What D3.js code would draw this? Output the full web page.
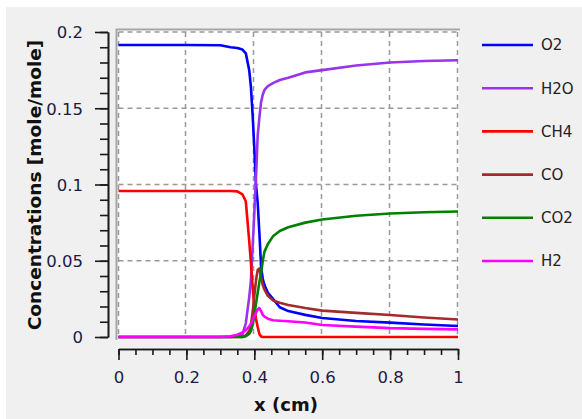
<!DOCTYPE html>
<html>
<head>
<meta charset="utf-8">
<script src="https://cdn.jsdelivr.net/npm/d3@7"></script>
<style>
  body { margin: 0; background: #fff; }
  svg { display: block; }
</style>
</head>
<body>
<svg id="chart" width="582" height="419"></svg>
<script>
// shared x positions (cm)
const xs = [0, 0.1, 0.2, 0.3, 0.33, 0.35, 0.365, 0.375, 0.385, 0.39, 0.395, 0.4, 0.405,
  0.41, 0.415, 0.42, 0.425, 0.43, 0.44, 0.455, 0.475, 0.5, 0.55, 0.6, 0.7, 0.8, 0.9, 1.0];

const o2  = [0.1915, 0.1915, 0.1915, 0.1913, 0.190, 0.1895, 0.1885, 0.186, 0.175, 0.164, 0.146, 0.124, 0.100,
  0.088, 0.068, 0.046, 0.038, 0.034, 0.029, 0.025, 0.0195, 0.017, 0.0145, 0.0125, 0.0105, 0.0094, 0.0082, 0.0072];
const h2o = [0, 0, 0, 0, 0, 0.0005, 0.0015, 0.009, 0.026, 0.037, 0.059, 0.081, 0.105,
  0.132, 0.144, 0.154, 0.159, 0.162, 0.1645, 0.1665, 0.1685, 0.170, 0.1735, 0.175, 0.178, 0.180, 0.181, 0.1815];
const ch4 = [0.0957, 0.0957, 0.0957, 0.0957, 0.0957, 0.0955, 0.0935, 0.089, 0.063, 0.049, 0.033, 0.020, 0.012,
  0.0066, 0.002, 0.0003, 0, 0, 0, 0, 0, 0, 0, 0, 0, 0, 0, 0];
const co  = [0, 0, 0, 0, 0, 0, 0, 0.001, 0.004, 0.008, 0.016, 0.027, 0.037,
  0.044, 0.045, 0.039, 0.034, 0.031, 0.027, 0.024, 0.0225, 0.021, 0.019, 0.0173, 0.0158, 0.0144, 0.0128, 0.0115];
const co2 = [0, 0, 0, 0, 0, 0, 0, 0.0005, 0.002, 0.004, 0.008, 0.014, 0.022,
  0.029, 0.036, 0.042, 0.050, 0.056, 0.061, 0.066, 0.0695, 0.072, 0.075, 0.077, 0.0795, 0.081, 0.0818, 0.0823];
const h2  = [0, 0, 0, 0, 0.0005, 0.0015, 0.003, 0.0045, 0.007, 0.0085, 0.011, 0.0135, 0.016,
  0.018, 0.019, 0.017, 0.0145, 0.0133, 0.012, 0.011, 0.0107, 0.0103, 0.0095, 0.0079, 0.0068, 0.0058, 0.0053, 0.005];

const seriesNames = ['O2', 'H2O', 'CH4', 'CO', 'CO2', 'H2'];
const seriesValues = [o2, h2o, ch4, co, co2, h2];
const seriesColors = ['#0000ff', '#9933ee', '#ff0000', '#a52a2a', '#008000', '#ff00ff'];

const xTicks = [0, 0.2, 0.4, 0.6, 0.8, 1];
const yTicks = [0, 0.05, 0.1, 0.15, 0.2];

const svg = d3.select('#chart');

// panel background
svg.append('rect')
  .attr('x', 6).attr('y', 7).attr('width', 576).attr('height', 412)
  .attr('fill', '#f0f0f0');

const xScale = d3.scaleLinear().domain([0, 1]).range([118.5, 458]);
const yScale = d3.scaleLinear().domain([0, 0.2]).range([337, 32]);

// plot area
svg.append('rect')
  .attr('x', 117).attr('y', 30).attr('width', 342).attr('height', 310)
  .attr('fill', '#fff');
svg.append('path')
  .attr('d', 'M116.5,340V29.5H460')
  .attr('fill', 'none')
  .attr('stroke', '#a6a6a6')
  .attr('stroke-width', 2);

// grid
const grid = svg.append('g')
  .attr('stroke', '#999')
  .attr('stroke-width', 1.5)
  .attr('stroke-dasharray', '5,4');
grid.selectAll('line.v')
  .data(xTicks)
  .join('line')
  .attr('class', 'v')
  .attr('x1', d => Math.round(xScale(d)) - 0.5)
  .attr('x2', d => Math.round(xScale(d)) - 0.5)
  .attr('y1', yScale(0.2))
  .attr('y2', yScale(0));
grid.selectAll('line.h')
  .data(yTicks.filter(d => d > 0))
  .join('line')
  .attr('class', 'h')
  .attr('x1', xScale(0))
  .attr('x2', xScale(1))
  .attr('y1', d => yScale(d))
  .attr('y2', d => yScale(d));

// series lines
const line = d3.line()
  .x((d, i) => xScale(xs[i]))
  .y(d => yScale(d));

svg.append('g')
  .selectAll('path')
  .data(seriesValues)
  .join('path')
  .attr('fill', 'none')
  .attr('stroke', (d, i) => seriesColors[i])
  .attr('stroke-width', 2.6)
  .attr('stroke-linejoin', 'round')
  .attr('d', line);

// y axis (minor + major ticks)
const yAxisG = svg.append('g').attr('transform', 'translate(108,0)');
yAxisG.append('g')
  .call(d3.axisLeft(yScale).tickValues(d3.range(0, 0.2001, 0.01)).tickSize(8).tickSizeOuter(0).tickFormat(''));
yAxisG.append('g')
  .call(d3.axisLeft(yScale).tickValues(yTicks).tickSize(13).tickSizeOuter(0).tickFormat(d3.format('~g')));
yAxisG.selectAll('path, line').attr('stroke', '#1a1a1a').attr('stroke-width', 1.6);
yAxisG.selectAll('text')
  .attr('font-family', 'DejaVu Sans, Verdana, sans-serif')
  .attr('font-size', 16.5)
  .attr('fill', '#1c1c44')
  .attr('x', -25)
  .attr('dy', '0.36em');

// x axis
const xAxisG = svg.append('g').attr('transform', 'translate(0,349)');
xAxisG.append('g')
  .call(d3.axisBottom(xScale).tickValues(d3.range(0, 1.0001, 0.05)).tickSize(6).tickSizeOuter(0).tickFormat(''));
xAxisG.append('g')
  .call(d3.axisBottom(xScale).tickValues(xTicks).tickSize(11).tickSizeOuter(0).tickFormat(d3.format('~g')));
xAxisG.selectAll('path, line').attr('stroke', '#1a1a1a').attr('stroke-width', 1.6);
xAxisG.selectAll('text')
  .attr('font-family', 'DejaVu Sans, Verdana, sans-serif')
  .attr('font-size', 16.5)
  .attr('fill', '#1c1c44')
  .attr('y', 22)
  .attr('dy', '0.71em');

// axis titles
svg.append('text')
  .attr('transform', 'translate(41,185) rotate(-90)')
  .attr('text-anchor', 'middle')
  .attr('font-family', 'DejaVu Sans, Verdana, sans-serif')
  .attr('font-weight', 'bold')
  .attr('font-size', 18.5)
  .attr('fill', '#111')
  .text('Concentrations [mole/mole]');

svg.append('text')
  .attr('x', 286).attr('y', 411)
  .attr('text-anchor', 'middle')
  .attr('font-family', 'DejaVu Sans, Verdana, sans-serif')
  .attr('font-weight', 'bold')
  .attr('font-size', 18)
  .attr('fill', '#111')
  .text('x (cm)');

// legend
const legend = svg.append('g');
const item = legend.selectAll('g')
  .data(seriesNames)
  .join('g')
  .attr('transform', (d, i) => `translate(482,${45 + i * 43.2})`);
item.append('line')
  .attr('x1', 0).attr('x2', 51)
  .attr('stroke', (d, i) => seriesColors[i])
  .attr('stroke-width', 2.6);
item.append('text')
  .attr('x', 59)
  .attr('dy', '0.36em')
  .attr('font-family', 'DejaVu Sans, Verdana, sans-serif')
  .attr('font-size', 15)
  .attr('fill', '#222')
  .text(d => d);
</script>
</body>
</html>
